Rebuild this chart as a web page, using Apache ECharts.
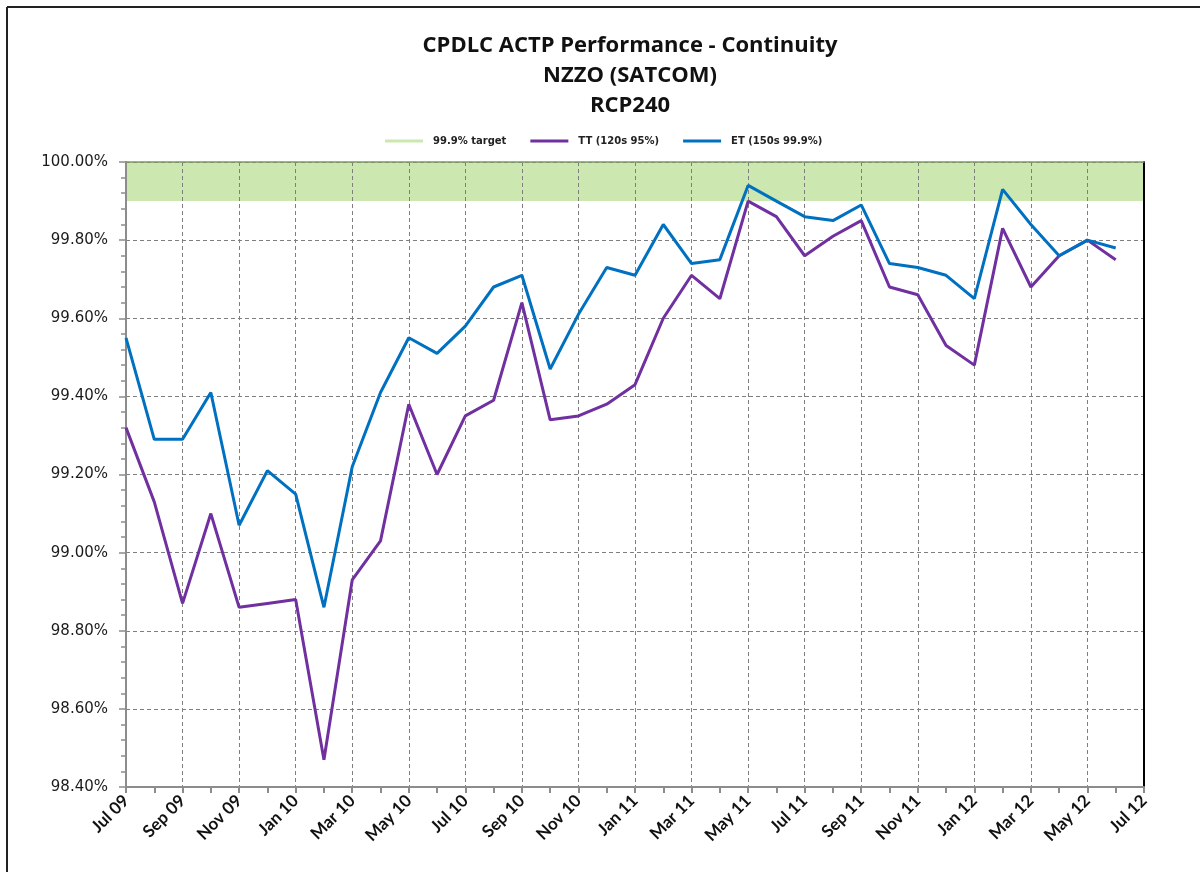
<!DOCTYPE html>
<html>
<head>
<meta charset="utf-8">
<title>CPDLC ACTP Performance - Continuity</title>
<script src="https://cdn.jsdelivr.net/npm/echarts@6/dist/echarts.min.js"></script>
<style>
  html, body { margin: 0; padding: 0; background: #fff; }
  #main { width: 1200px; height: 872px; }
</style>
</head>
<body>
<div id="main"></div>
<script>
// months on the x axis (Jul 12 is the last tick, no data)
var months = ['Jul 09','Aug 09','Sep 09','Oct 09','Nov 09','Dec 09','Jan 10','Feb 10','Mar 10','Apr 10','May 10','Jun 10',
              'Jul 10','Aug 10','Sep 10','Oct 10','Nov 10','Dec 10','Jan 11','Feb 11','Mar 11','Apr 11','May 11','Jun 11',
              'Jul 11','Aug 11','Sep 11','Oct 11','Nov 11','Dec 11','Jan 12','Feb 12','Mar 12','Apr 12','May 12','Jun 12','Jul 12'];

// TT (120s 95%)
var tt = [99.32,99.13,98.87,99.10,98.86,98.87,98.88,98.47,98.93,99.03,99.38,99.20,
          99.35,99.39,99.64,99.34,99.35,99.38,99.43,99.60,99.71,99.65,99.90,99.86,
          99.76,99.81,99.85,99.68,99.66,99.53,99.48,99.83,99.68,99.76,99.80,99.75];

// ET (150s 99.9%)
var et = [99.55,99.29,99.29,99.41,99.07,99.21,99.15,98.86,99.22,99.41,99.55,99.51,
          99.58,99.68,99.71,99.47,99.61,99.73,99.71,99.84,99.74,99.75,99.94,99.90,
          99.86,99.85,99.89,99.74,99.73,99.71,99.65,99.93,99.84,99.76,99.80,99.78];

// target band (from / to)
var targetBand = [99.9, 100];

var yMin = 98.4, yMax = 100, yStep = 0.2;

var myChart = echarts.init(document.getElementById('main'));

var gridLine = { show: true, lineStyle: { color: '#7f7f7f', width: 1, type: [4, 3] } };

option = {
    backgroundColor: '#fff',
    animation: false,
    title: {
        text: 'CPDLC ACTP Performance - Continuity\nNZZO (SATCOM)\nRCP240',
        left: 630,
        top: 31,
        padding: 0,
        textAlign: 'center',
        textStyle: {
            fontFamily: 'Open Sans',
            fontWeight: 'bold',
            fontSize: 22,
            lineHeight: 30,
            color: '#111'
        }
    },
    legend: {
        left: 380,
        top: 131,
        icon: 'rect',
        itemWidth: 38,
        itemHeight: 3,
        itemGap: 24,
        textStyle: {
            fontFamily: 'DejaVu Sans',
            fontWeight: 'bold',
            fontSize: 10,
            padding: [0, 0, 0, 5],
            color: '#222'
        },
        data: ['99.9% target', 'TT (120s 95%)', 'ET (150s 99.9%)']
    },
    grid: {
        left: 126,
        right: 56,
        top: 162,
        bottom: 85
    },
    xAxis: [{
        type: 'category',
        data: months,
        boundaryGap: false,
        axisLine: { lineStyle: { color: '#8c8c8c', width: 2 } },
        axisTick: { show: true, interval: 0, length: 6, lineStyle: { color: '#8c8c8c', width: 2 } },
        axisLabel: {
            interval: 1,
            rotate: 45,
            margin: 11,
            fontFamily: 'Lato',
            fontWeight: 'bold',
            fontSize: 17,
            color: '#111'
        },
        splitLine: { show: true, interval: 1, lineStyle: gridLine.lineStyle }
    }, {
        type: 'category',
        position: 'top',
        data: months,
        boundaryGap: false,
        axisLine: { lineStyle: { color: '#7c9a5e', width: 1.5 } },
        axisTick: { show: false },
        axisLabel: { show: false },
        splitLine: { show: false }
    }],
    yAxis: [{
        type: 'value',
        min: yMin,
        max: yMax,
        interval: yStep,
        axisLine: { show: true, lineStyle: { color: '#8c8c8c', width: 2 } },
        axisTick: { show: true, length: 7, lineStyle: { color: '#8c8c8c', width: 1.5 } },
        minorTick: { show: true, splitNumber: 5, length: 5, lineStyle: { color: '#8c8c8c', width: 1.5 } },
        axisLabel: {
            margin: 18,
            fontFamily: 'DejaVu Sans',
            fontSize: 15,
            color: '#1a1a1a',
            formatter: function (v) { return v.toFixed(2) + '%'; }
        },
        splitLine: gridLine
    }, {
        type: 'value',
        position: 'right',
        min: yMin,
        max: yMax,
        interval: yStep,
        axisLine: { show: true, lineStyle: { color: '#000', width: 2 } },
        axisTick: { show: false },
        axisLabel: { show: false },
        splitLine: { show: false }
    }],
    series: [{
        name: '99.9% target',
        type: 'line',
        data: [],
        itemStyle: { color: '#cce8b0' },
        lineStyle: { color: '#cce8b0', width: 3 },
        markArea: {
            silent: true,
            z: -1,
            itemStyle: { color: '#cce8b0', opacity: 1 },
            data: [[{ yAxis: targetBand[0] }, { yAxis: targetBand[1] }]]
        }
    }, {
        name: 'TT (120s 95%)',
        type: 'line',
        data: tt,
        showSymbol: false,
        symbol: 'none',
        itemStyle: { color: '#7030a0' },
        lineStyle: { color: '#7030a0', width: 3 }
    }, {
        name: 'ET (150s 99.9%)',
        type: 'line',
        data: et,
        showSymbol: false,
        symbol: 'none',
        itemStyle: { color: '#0070c0' },
        lineStyle: { color: '#0070c0', width: 3 }
    }],
    graphic: [
        { type: 'line', silent: true, shape: { x1: 7, y1: 7, x2: 1200, y2: 7 }, style: { stroke: '#222', lineWidth: 2 } },
        { type: 'line', silent: true, shape: { x1: 7, y1: 7, x2: 7, y2: 872 }, style: { stroke: '#222', lineWidth: 2 } }
    ]
};

myChart.setOption(option, true);
</script>
</body>
</html>
